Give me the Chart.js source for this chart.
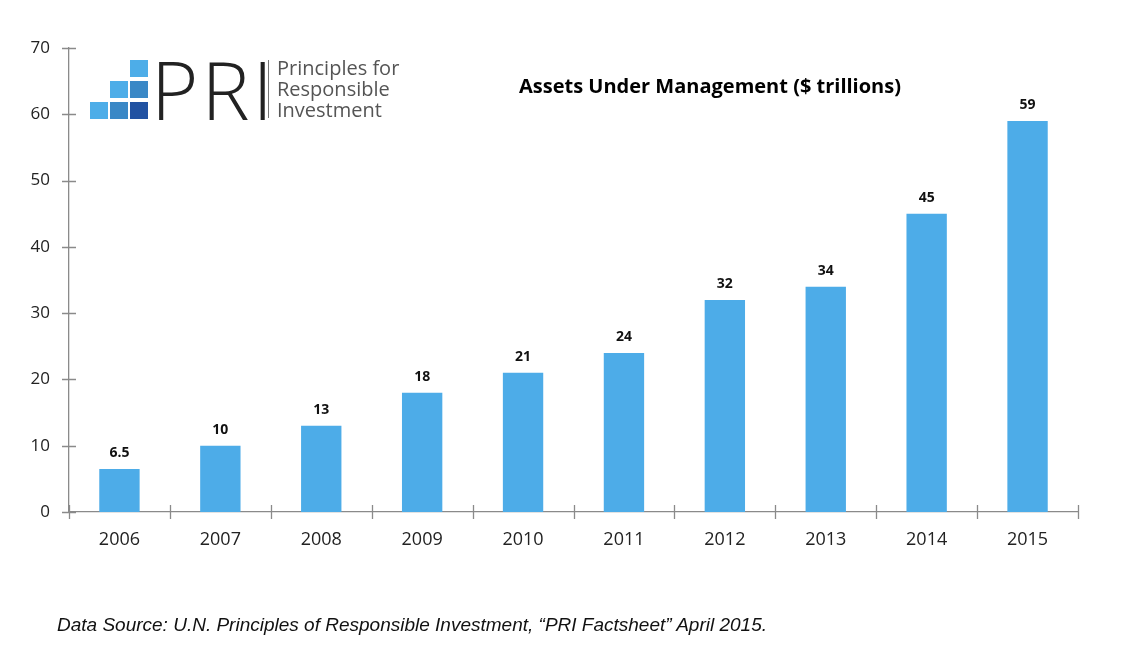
<!DOCTYPE html>
<html>
<head>
<meta charset="utf-8">
<script src="https://cdn.jsdelivr.net/npm/chart.js@4.4.1/dist/chart.umd.min.js"></script>
<style>
  html, body { margin: 0; padding: 0; background: #fff; }
  #wrap { position: relative; width: 1148px; height: 652px; }
  #chart { position: absolute; left: 0; top: 0; }
  .sq { position: absolute; width: 18px; height: 17px; }
  #pri { position: absolute; left: 151px; top: 41px; font-family: "Open Sans", sans-serif; font-weight: 300;
         font-size: 81px; line-height: 96px; color: #222; letter-spacing: 3px; }
  #bar { position: absolute; left: 268px; top: 60px; width: 1px; height: 58px; background: #777; }
  #ptxt { position: absolute; left: 277px; top: 57px; font-family: "Open Sans", sans-serif; font-size: 20px;
          line-height: 21px; color: #555; }
  #source { position: absolute; left: 57px; top: 614px; font-family: "Liberation Sans", Arial, sans-serif;
            font-style: italic; font-size: 19px; color: #111; }
</style>
</head>
<body>
<div id="wrap">
  <canvas id="chart" width="1148" height="652"></canvas>
  <div class="sq" style="left:130px;top:60px;background:#4dade8"></div>
  <div class="sq" style="left:110px;top:81px;background:#4dade8"></div>
  <div class="sq" style="left:130px;top:81px;background:#3a88c6"></div>
  <div class="sq" style="left:90px;top:102px;background:#4dade8"></div>
  <div class="sq" style="left:110px;top:102px;background:#3a88c6"></div>
  <div class="sq" style="left:130px;top:102px;background:#2152a2"></div>
  <div id="pri">PRI</div>
  <div id="bar"></div>
  <div id="ptxt">Principles for<br>Responsible<br>Investment</div>
  <div id="source">Data Source: U.N. Principles of Responsible Investment, “PRI Factsheet” April 2015.</div>
</div>
<script>
var years = ['2006', '2007', '2008', '2009', '2010', '2011', '2012', '2013', '2014', '2015'];
var assets = [6.5, 10, 13, 18, 21, 24, 32, 34, 45, 59];
var yTicks = [0, 10, 20, 30, 40, 50, 60, 70];

var axisColor = '#8a8a8a';

// ticks that cross the axis line, plus value labels and the title
var extras = {
    id: 'extras',
    afterDraw: function (chart) {
        var ctx = chart.ctx,
            x = chart.scales.x,
            y = chart.scales.y;
        ctx.save();
        ctx.strokeStyle = axisColor;
        ctx.lineWidth = 1.3;
        ctx.beginPath();
        yTicks.forEach(function (v) {
            var py = Math.round(y.getPixelForValue(v)) + 0.5;
            ctx.moveTo(x.left - 7, py);
            ctx.lineTo(x.left + 7, py);
        });
        var n = years.length;
        for (var i = 0; i <= n; i++) {
            var px = Math.round(x.left + i * (x.width / n)) + 0.5;
            ctx.moveTo(px, y.bottom - 7);
            ctx.lineTo(px, y.bottom + 7);
        }
        ctx.stroke();

        ctx.fillStyle = '#111';
        ctx.font = 'bold 14px "Open Sans"';
        ctx.textAlign = 'center';
        ctx.textBaseline = 'bottom';
        chart.getDatasetMeta(0).data.forEach(function (bar, i) {
            ctx.fillText(String(assets[i]), bar.x, bar.y - 9);
        });

        ctx.fillStyle = '#000';
        ctx.font = 'bold 20px "Open Sans"';
        ctx.textBaseline = 'middle';
        ctx.fillText('Assets Under Management ($ trillions)', 710, 87);
        ctx.restore();
    }
};

new Chart(document.getElementById('chart'), {
    type: 'bar',
    data: {
        labels: years,
        datasets: [{
            data: assets,
            backgroundColor: '#4dace8',
            barPercentage: 0.4,
            categoryPercentage: 1.0
        }]
    },
    options: {
        responsive: false,
        animation: false,
        layout: { padding: { top: 48, right: 70, left: 0, bottom: 0 } },
        plugins: {
            legend: { display: false },
            tooltip: { enabled: false }
        },
        scales: {
            x: {
                grid: { display: false },
                border: { display: true, color: axisColor, width: 1.3 },
                ticks: { color: '#222', font: { family: 'Open Sans', size: 18 }, padding: 9 },
                afterFit: function (s) { s.height = 140; }
            },
            y: {
                min: 0,
                max: 70,
                grid: { display: false },
                border: { display: true, color: axisColor, width: 1.3 },
                ticks: { stepSize: 10, color: '#222', font: { family: 'Open Sans', size: 17 }, padding: 11 },
                afterFit: function (s) { s.width = 69; }
            }
        }
    },
    plugins: [extras]
});
</script>
</body>
</html>
